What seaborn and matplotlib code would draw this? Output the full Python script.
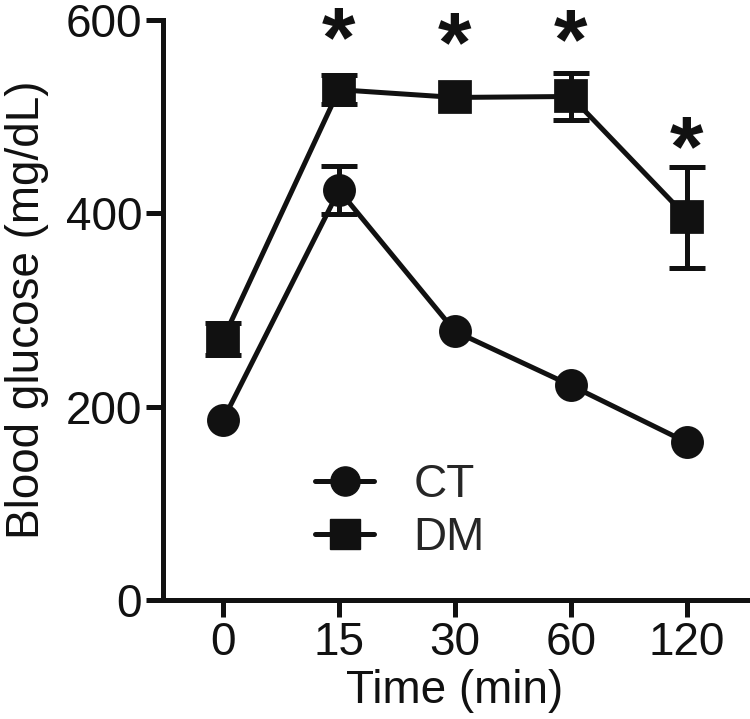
import matplotlib
matplotlib.use("Agg")
import matplotlib.pyplot as plt
import seaborn as sns
import pandas as pd
import numpy as np
from matplotlib.lines import Line2D

times = ["0", "15", "30", "60", "120"]
ct_mean = [186, 424, 278, 222, 163]
ct_err = [0, 25, 0, 0, 0]
dm_mean = [270, 528, 520, 521, 396]
dm_err = [17, 15, 0, 24, 52]
star_pos = ["15", "30", "60", "120"]
star_y = [591, 586, 589, 478]

sns.set_theme(style="ticks")
plt.rcParams["font.family"] = ["Liberation Sans", "DejaVu Sans"]

df = pd.DataFrame({
    "Time": times * 2,
    "Glucose": ct_mean + dm_mean,
    "Group": ["CT"] * len(times) + ["DM"] * len(times),
})
df["Time"] = pd.Categorical(df["Time"], categories=times, ordered=True)

fig = plt.figure(figsize=(7.5, 7.19), dpi=100)
ax = fig.add_axes([0.2173, 0.1655, 0.7787, 0.8065])

ink = "#111111"
lw = 3.6
ms = 21
fs = 33
sns.pointplot(data=df, x="Time", y="Glucose", hue="Group",
              markers=["o", "s"], linestyles=["-", "-"],
              palette=[ink, ink], errorbar=None,
              markersize=ms, linewidth=lw, ax=ax, legend=False)

xpos = np.arange(len(times))
for mean, err in ((ct_mean, ct_err), (dm_mean, dm_err)):
    m = np.array(mean, dtype=float)
    e = np.array(err, dtype=float)
    keep = e > 0
    _, caps, bars = ax.errorbar(xpos[keep], m[keep], yerr=e[keep], fmt="none",
                                ecolor=ink, elinewidth=lw, capsize=13,
                                capthick=lw, zorder=3)
    for c in caps:
        c.set_solid_capstyle("round")

for p, yv in zip(star_pos, star_y):
    ax.annotate("*", xy=(times.index(p), yv), xytext=(0, -0.43 * 62),
                textcoords="offset points", ha="center", va="baseline",
                fontsize=62, fontweight="bold", color=ink, annotation_clip=False)

ax.set_xlim(-0.517, 4.517)
ax.set_ylim(0, 600)
ax.set_yticks([0, 200, 400, 600])
ax.set_xticks(xpos)
ax.set_xticklabels(times)
ax.set_xlabel("Time (min)", fontsize=fs, labelpad=3, color=ink)
ax.set_ylabel("Blood glucose (mg/dL)", fontsize=fs, labelpad=12, color=ink)
ax.tick_params(axis="both", labelsize=fs, width=lw, length=12, color=ink,
               labelcolor=ink, pad=3)
for s in ["top", "right"]:
    ax.spines[s].set_visible(False)
for s in ["left", "bottom"]:
    ax.spines[s].set_linewidth(lw)
    ax.spines[s].set_color(ink)

handles = [
    Line2D([], [], color=ink, marker="o", markersize=ms, linewidth=lw),
    Line2D([], [], color=ink, marker="s", markersize=ms, linewidth=lw),
]
ax.legend(handles, ["CT", "DM"], loc="center left", bbox_to_anchor=(0.26, 0.153),
          frameon=False, fontsize=fs, handlelength=1.3, handletextpad=0.85,
          labelspacing=0.2, borderpad=0, borderaxespad=0)

fig.savefig("out.png", dpi=100)
